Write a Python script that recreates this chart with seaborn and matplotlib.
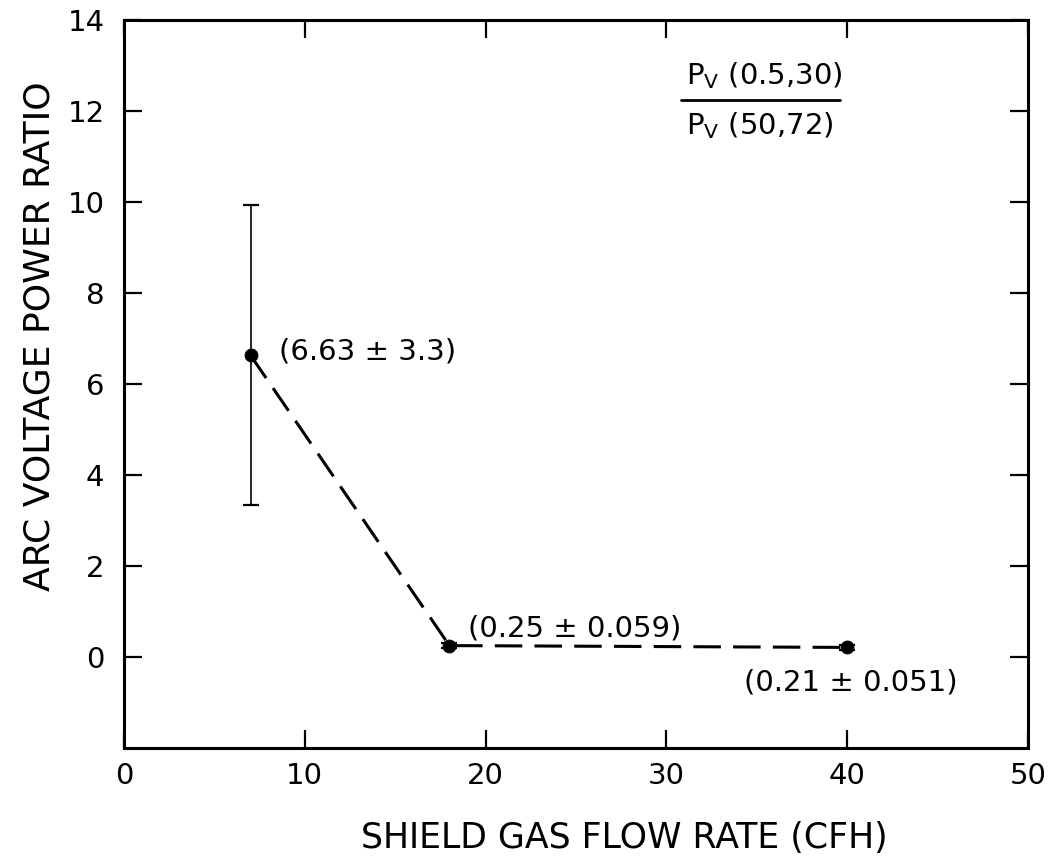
import matplotlib
matplotlib.use("Agg")
import matplotlib.pyplot as plt
import seaborn as sns
import pandas as pd

# Measured data: shield gas flow rate vs. arc voltage power ratio
flow_rate = [7, 18, 40]
power_ratio = [6.63, 0.25, 0.21]
ratio_err = [3.3, 0.059, 0.051]
point_labels = ["(6.63 ± 3.3)", "(0.25 ± 0.059)", "(0.21 ± 0.051)"]

x_ticks = [0, 10, 20, 30, 40, 50]
y_ticks = [0, 2, 4, 6, 8, 10, 12, 14]

sns.set_theme(style="ticks")
plt.rcParams["font.family"] = ["DejaVu Sans"]
plt.rcParams["text.color"] = "black"

df = pd.DataFrame({"flow": flow_rate, "ratio": power_ratio, "err": ratio_err})

fig = plt.figure(figsize=(10.57, 8.63), dpi=100)
ax = fig.add_axes([0.1173, 0.1333, 0.9726 - 0.1173, 0.9768 - 0.1333])

# dashed connecting line
sns.lineplot(data=df, x="flow", y="ratio", ax=ax, color="black",
             linewidth=2.2, dashes=False, sort=False, legend=False)
ax.lines[-1].set_dashes([9, 4])

# error bars
ax.errorbar(df["flow"], df["ratio"], yerr=df["err"], fmt="none",
            ecolor="black", elinewidth=1.2, capsize=6, capthick=1.6, zorder=3)

# data points
sns.scatterplot(data=df, x="flow", y="ratio", ax=ax, color="black",
                s=85, edgecolor="black", zorder=4, legend=False)

# value annotations
txt = dict(fontsize=21, color="black")
ax.text(8.6, 6.72, point_labels[0], ha="left", va="center", **txt)
ax.text(19.0, 0.62, point_labels[1], ha="left", va="center", **txt)
ax.text(40.2, -0.57, point_labels[2], ha="center", va="center", **txt)

# ratio definition in the upper right
ax.text(31.1, 12.78, r"P$_\mathrm{V}$ (0.5,30)", ha="left", va="center", **txt)
ax.text(31.1, 11.68, r"P$_\mathrm{V}$ (50,72)", ha="left", va="center", **txt)
ax.plot([30.8, 39.6], [12.24, 12.24], color="black", linewidth=2)

ax.set_xlim(0, 50)
ax.set_ylim(-2, 14)
ax.set_xticks(x_ticks)
ax.set_yticks(y_ticks)
ax.set_xticklabels([str(v) for v in x_ticks])
ax.set_yticklabels([str(v) for v in y_ticks])

ax.tick_params(axis="both", which="major", direction="in", length=13, width=1.6,
               labelsize=21, top=True, right=True, color="black", labelcolor="black")
ax.tick_params(axis="x", pad=10)
ax.tick_params(axis="y", pad=14)

for side in ["left", "right", "top", "bottom"]:
    ax.spines[side].set_visible(True)
    ax.spines[side].set_linewidth(2.2)
    ax.spines[side].set_color("black")

ax.set_xlabel("SHIELD GAS FLOW RATE (CFH)", fontsize=25, color="black", va="center")
ax.set_ylabel("ARC VOLTAGE POWER RATIO", fontsize=26, color="black", va="center")
ax.xaxis.set_label_coords(0.553, -0.124)
ax.yaxis.set_label_coords(-0.093, 0.565)

fig.savefig("out.png", dpi=100, facecolor="white")
